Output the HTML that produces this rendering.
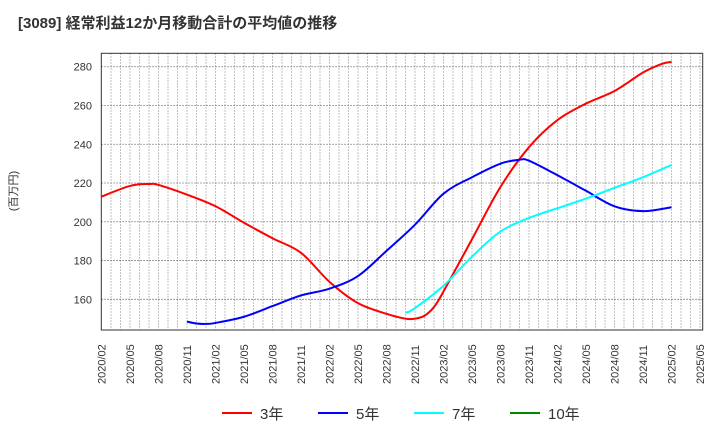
<!DOCTYPE html>
<html><head><meta charset="utf-8"><style>
body{margin:0;background:#fff;}
svg text{font-family:"Liberation Sans","Noto Sans CJK JP",sans-serif;}
</style></head><body>
<svg width="720" height="440" xmlns="http://www.w3.org/2000/svg">
<text x="18" y="28" font-size="15" font-weight="bold" fill="#333">[3089]  経常利益12か月移動合計の平均値の推移</text>
<text transform="translate(17,191) rotate(-90)" font-size="11" fill="#333" text-anchor="middle">(百万円)</text>
<g id="grid"></g>
<g id="yt"></g>
<g id="xt"></g>
<g id="series"></g>
<rect x="101.3" y="53.3" width="601.4" height="276.7" fill="none" stroke="#333" stroke-width="1"/>
<g>
<g><line x1="222" y1="413" x2="252" y2="413" stroke="#f00" stroke-width="2"/><text x="260" y="419" font-size="15" fill="#333">3年</text></g>
<g><line x1="318" y1="413" x2="348" y2="413" stroke="#00f" stroke-width="2"/><text x="356" y="419" font-size="15" fill="#333">5年</text></g>
<g><line x1="414" y1="413" x2="444" y2="413" stroke="#0ff" stroke-width="2"/><text x="452" y="419" font-size="15" fill="#333">7年</text></g>
<g><line x1="510" y1="413" x2="540" y2="413" stroke="#080" stroke-width="2"/><text x="548" y="419" font-size="15" fill="#333">10年</text></g>
</g>
</svg>
<script>
const xLabels=["2020/02","2020/05","2020/08","2020/11","2021/02","2021/05","2021/08","2021/11","2022/02","2022/05","2022/08","2022/11","2023/02","2023/05","2023/08","2023/11","2024/02","2024/05","2024/08","2024/11","2025/02","2025/05"];
const yTicks=[160,180,200,220,240,260,280];
// month index from 2020/02
const red3M=[0,3,5,6,9,12,15,18,21,24,27,30,32,33,34,35,36,39,42,45,48,51,54,57,59,60];
const red3V=[213,218.5,219.5,219,214,208,199.5,191.5,184,169,158,152.5,150,150,151.5,156,164,191,218,238.5,252.5,261,267.5,277,281.5,282.5];
const blue5M=[9,10,11,12,15,18,21,24,27,30,33,36,39,42,44,45,48,51,54,57,60];
const blue5V=[148.5,147.5,147.3,147.8,151,156.5,162,165.5,172,185,198.5,214.5,223,230,232,231.5,224,216,208,205.5,207.5];
const cyan7M=[32,33,36,39,42,45,48,51,54,57,60];
const cyan7V=[153,155.5,167,182,195,202,207,212,217.5,223,229.3];
const X0=101.5,DX=9.5,Y0=299.3,YS=1.938;
const xs=m=>X0+m*DX, ys=v=>Y0-(v-160)*YS;
const NS="http://www.w3.org/2000/svg";
const grid=document.getElementById('grid'),yt=document.getElementById('yt'),xt=document.getElementById('xt'),ser=document.getElementById('series');
for(let m=1;m<64;m++){const l=document.createElementNS(NS,'line');


l.setAttribute('x1',xs(m));l.setAttribute('x2',xs(m));l.setAttribute('y1',53.3);l.setAttribute('y2',330);l.setAttribute('stroke','#999');l.setAttribute('stroke-dasharray','1.5,1.5');l.setAttribute('stroke-width','0.8');grid.appendChild(l);}
yTicks.forEach(v=>{const l=document.createElementNS(NS,'line');


l.setAttribute('x1',101.3);l.setAttribute('x2',702.7);l.setAttribute('y1',ys(v));l.setAttribute('y2',ys(v));l.setAttribute('stroke','#666');l.setAttribute('stroke-dasharray','1.5,1.5');l.setAttribute('stroke-width','0.8');grid.appendChild(l);
const t=document.createElementNS(NS,'text');


t.setAttribute('x',92);t.setAttribute('y',ys(v)+4);t.setAttribute('text-anchor','end');t.setAttribute('font-size','11');t.setAttribute('fill','#333');t.textContent=v;yt.appendChild(t);});
xLabels.forEach((s,i)=>{const t=document.createElementNS(NS,'text');


const x=xs(i*3)+4;t.setAttribute('transform','translate('+x+',384) rotate(-90)');t.setAttribute('font-size','11');t.setAttribute('fill','#333');t.textContent=s;xt.appendChild(t);});
function path(M,V,c,name){const P=M.map((m,i)=>[xs(m),ys(V[i])]);let d='M'+P[0][0]+','+P[0][1];
for(let i=0;i<P.length-1;i++){const p0=P[Math.max(0,i-1)],p1=P[i],p2=P[i+1],p3=P[Math.min(P.length-1,i+2)];
const c1=[p1[0]+(p2[0]-p0[0])/6,p1[1]+(p2[1]-p0[1])/6],c2=[p2[0]-(p3[0]-p1[0])/6,p2[1]-(p3[1]-p1[1])/6];
d+=' C'+c1+' '+c2+' '+p2;}
const e=document.createElementNS(NS,'path');


e.setAttribute('d',d);e.setAttribute('fill','none');e.setAttribute('stroke',c);e.setAttribute('stroke-width','2');ser.appendChild(e);}
path(red3M,red3V,'#f00','line-3y');
path(blue5M,blue5V,'#00f','line-5y');
path(cyan7M,cyan7V,'#0ff','line-7y');
</script>
</body></html>
